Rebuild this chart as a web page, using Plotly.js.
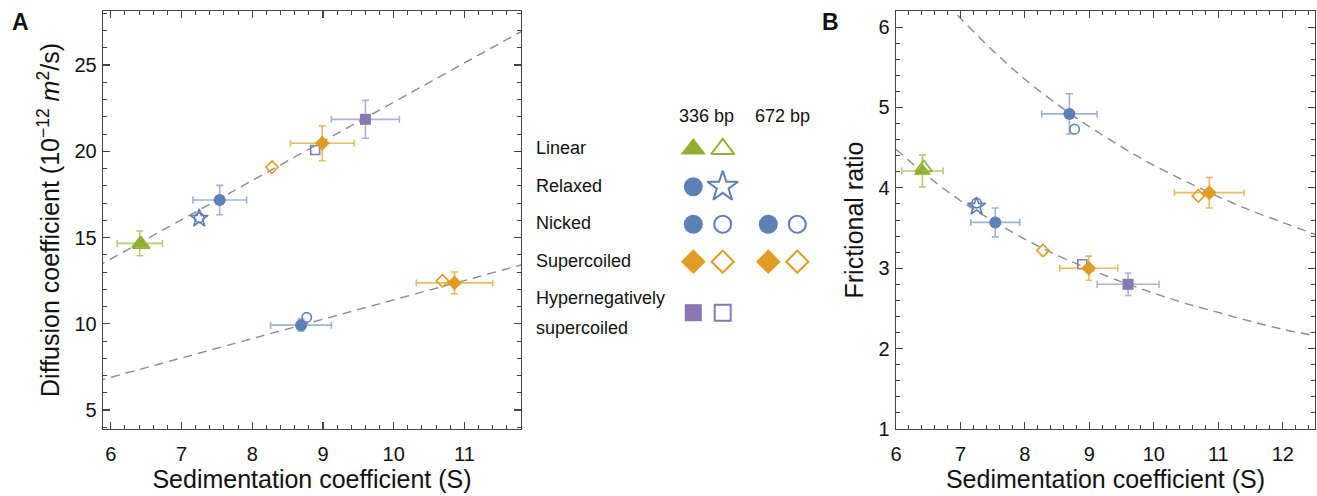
<!DOCTYPE html>
<html><head><meta charset="utf-8">
<script src="https://cdn.plot.ly/plotly-3.0.1.min.js"></script>
<style>html,body{margin:0;padding:0;background:#fff}#chart{width:1317px;height:496px}</style>
</head><body><div id="chart"></div>
<script>
// ---------------- DATA ----------------
const categories = ['Linear', 'Relaxed', 'Nicked', 'Supercoiled', 'Hypernegatively supercoiled'];
const lengths = ['336 bp', '672 bp'];

// Measured values (filled markers, with error bars)
const measForm = ['Linear', 'Nicked', 'Supercoiled', 'Hypernegatively supercoiled', 'Nicked', 'Supercoiled'];
const measLen  = ['336 bp', '336 bp', '336 bp', '336 bp', '672 bp', '672 bp'];
const measS    = [6.41, 7.54, 8.99, 9.60, 8.69, 10.86];
const measSErr = [0.32, 0.38, 0.45, 0.48, 0.43, 0.54];
const measD    = [14.66, 17.17, 20.46, 21.85, 9.92, 12.37];
const measDErr = [0.72, 0.85, 1.01, 1.10, 0.35, 0.63];
const measF    = [4.21, 3.57, 3.00, 2.80, 4.92, 3.94];
const measFErr = [0.20, 0.18, 0.15, 0.14, 0.25, 0.19];

// Computed values (open markers)
const compForm = ['Linear', 'Relaxed', 'Nicked', 'Supercoiled', 'Hypernegatively supercoiled', 'Nicked', 'Supercoiled'];
const compLen  = ['336 bp', '336 bp', '336 bp', '336 bp', '336 bp', '672 bp', '672 bp'];
const compS    = [6.43, 7.25, 7.25, 8.28, 8.89, 8.77, 10.69];
const compD    = [14.60, 16.11, 16.15, 19.07, 20.07, 10.37, 12.49];
const compF    = [4.25, 3.77, 3.81, 3.22, 3.05, 4.73, 3.90];

// Reference (dashed) curves
const curveA336S = [5.8, 12.0];
const curveA336D = [13.30, 27.39];
const curveA672S = [5.8, 12.0];
const curveA672D = [6.67, 13.63];
const curveB336S = [6.8, 7.0, 7.5, 8.0, 8.5, 9.0, 9.5, 10.0, 10.5, 11.0, 11.5, 12.0, 12.5];
const curveB336F = [6.29, 6.11, 5.71, 5.35, 5.04, 4.76, 4.51, 4.28, 4.08, 3.89, 3.72, 3.57, 3.42];
const curveB672S = [6.0, 6.5, 7.0, 7.5, 8.0, 8.5, 9.0, 9.5, 10.0, 10.5, 11.0, 11.5, 12.0, 12.5];
const curveB672F = [4.48, 4.14, 3.84, 3.59, 3.36, 3.16, 2.99, 2.83, 2.69, 2.56, 2.45, 2.34, 2.24, 2.16];

// Legend layout: which (form, length, filled/open) appear
const legendEntries = [
  ['Linear', '336 bp', 'filled'], ['Linear', '336 bp', 'open'],
  ['Relaxed', '336 bp', 'filled'], ['Relaxed', '336 bp', 'open'],
  ['Nicked', '336 bp', 'filled'], ['Nicked', '336 bp', 'open'],
  ['Nicked', '672 bp', 'filled'], ['Nicked', '672 bp', 'open'],
  ['Supercoiled', '336 bp', 'filled'], ['Supercoiled', '336 bp', 'open'],
  ['Supercoiled', '672 bp', 'filled'], ['Supercoiled', '672 bp', 'open'],
  ['Hypernegatively supercoiled', '336 bp', 'filled'], ['Hypernegatively supercoiled', '336 bp', 'open']
];

// ---------------- STYLE ----------------
const FONT = 'Liberation Sans, Arial, Helvetica, sans-serif';
const C = {green: '#8FB032', blue: '#5E81B5', orange: '#E19C24', purple: '#8778B3'};
const ERR = {green: 'rgba(143,176,50,0.65)', blue: 'rgba(94,129,181,0.6)', orange: 'rgba(225,156,36,0.7)', purple: 'rgba(135,120,179,0.6)'};
const formStyle = {
  'Linear': {c: 'green', filled: 'triangle-up', open: 'triangle-up-open', fs: 15, os: 15, lf: 22, lo: 20},
  'Relaxed': {c: 'blue', filled: 'circle', open: 'star-open', fs: 12, os: 13.5, lf: 19, lo: 23},
  'Nicked': {c: 'blue', filled: 'circle', open: 'circle-open', fs: 12, os: 9.5, lf: 19, lo: 17},
  'Supercoiled': {c: 'orange', filled: 'diamond', open: 'diamond-open', fs: 11.5, os: 9.5, lf: 19, lo: 17},
  'Hypernegatively supercoiled': {c: 'purple', filled: 'square', open: 'square-open', fs: 11, os: 9, lf: 17, lo: 16}
};

const W = 1317, H = 496;
const px = v => v / W, py = v => 1 - v / H;
const domA = [px(103), px(521)], domB = [px(896), px(1315)], domY = [py(429), py(11)];

const traces = [];
function addCurve(xs, ys, xa, ya) {
  traces.push({x: xs, y: ys, xaxis: xa, yaxis: ya, mode: 'lines', type: 'scatter', hoverinfo: 'skip',
    line: {color: '#8c8c8c', width: 1.4, dash: '9px,6px', shape: 'spline'}});
}
addCurve(curveA336S, curveA336D, 'x', 'y');
addCurve(curveA672S, curveA672D, 'x', 'y');
addCurve(curveB336S, curveB336F, 'x2', 'y2');
addCurve(curveB672S, curveB672F, 'x2', 'y2');

function addOpen(yVals, xa, ya) {
  compForm.forEach((f, i) => {
    const st = formStyle[f];
    traces.push({x: [compS[i]], y: [yVals[i]], xaxis: xa, yaxis: ya, mode: 'markers', type: 'scatter',
      name: f + ' ' + compLen[i], cliponaxis: false,
      marker: {symbol: st.open, size: st.os, color: C[st.c], line: {color: C[st.c], width: 1.6}}});
  });
}
function addFilled(yVals, yErr, xa, ya) {
  measForm.forEach((f, i) => {
    const st = formStyle[f];
    traces.push({x: [measS[i]], y: [yVals[i]], xaxis: xa, yaxis: ya, mode: 'markers', type: 'scatter',
      name: f + ' ' + measLen[i], cliponaxis: false,
      error_x: {type: 'data', array: [measSErr[i]], color: ERR[st.c], thickness: 1.6, width: 3.5},
      error_y: {type: 'data', array: [yErr[i]], color: ERR[st.c], thickness: 1.6, width: 3.5},
      marker: {symbol: st.filled, size: st.fs, color: C[st.c], line: {width: 0}}});
  });
}
addOpen(compD, 'x', 'y');
addFilled(measD, measDErr, 'x', 'y');
addOpen(compF, 'x2', 'y2');
addFilled(measF, measFErr, 'x2', 'y2');

// Legend (drawn on an overlay axis in pixel units)
const colX = {'336 bp': {filled: 693.3, open: 722.7}, '672 bp': {filled: 768.3, open: 797.3}};
const rowY = {'Linear': 149, 'Relaxed': 186.7, 'Nicked': 224.3, 'Supercoiled': 261.7, 'Hypernegatively supercoiled': 312.7};
legendEntries.forEach(([f, len, kind]) => {
  const st = formStyle[f];
  const isOpen = kind === 'open';
  traces.push({x: [colX[len][kind]], y: [rowY[f]], xaxis: 'x3', yaxis: 'y3', mode: 'markers', type: 'scatter',
    hoverinfo: 'skip', cliponaxis: false,
    marker: {symbol: st[kind], size: isOpen ? st.lo : st.lf,
      color: C[st.c], line: {color: C[st.c], width: isOpen ? 2 : 0}}});
});

const tickFont = {family: FONT, size: 20, color: '#111'};
function frame(range, domain, dtick, minorDtick, anchor, title, isX) {
  return {range: range, domain: domain, anchor: anchor, showline: true, linecolor: '#444', linewidth: 1.3,
    mirror: 'ticks', ticks: 'inside', ticklen: 7, tickwidth: 1.1, tickcolor: '#444', tick0: 0, dtick: dtick,
    ticklabelstandoff: isX ? 7 : 1,
    minor: {ticks: 'inside', ticklen: 4, tickwidth: 1, tickcolor: '#444', dtick: minorDtick, tick0: 0},
    showgrid: false, zeroline: false, tickfont: tickFont, fixedrange: true,
    title: {text: title, font: {family: FONT, size: 25, color: '#111'}, standoff: isX ? 0 : 7}};
}

const ann = [];
const labelFont = {family: FONT, size: 18, color: '#111'};
const rowLabelY = {'Linear': 148.3, 'Relaxed': 186, 'Nicked': 223.3, 'Supercoiled': 260.7};
categories.forEach(cat => {
  if (rowLabelY[cat] !== undefined) {
    ann.push({x: 534, y: rowLabelY[cat], xref: 'x3', yref: 'y3', text: cat, showarrow: false, xanchor: 'left', yanchor: 'middle', font: labelFont});
  }
});
ann.push({x: 534, y: 298.3, xref: 'x3', yref: 'y3', text: 'Hypernegatively', showarrow: false, xanchor: 'left', yanchor: 'middle', font: labelFont});
ann.push({x: 534, y: 328.3, xref: 'x3', yref: 'y3', text: 'supercoiled', showarrow: false, xanchor: 'left', yanchor: 'middle', font: labelFont});
ann.push({x: 706.7, y: 116, xref: 'x3', yref: 'y3', text: lengths[0], showarrow: false, xanchor: 'center', yanchor: 'middle', font: labelFont});
ann.push({x: 782, y: 116, xref: 'x3', yref: 'y3', text: lengths[1], showarrow: false, xanchor: 'center', yanchor: 'middle', font: labelFont});
ann.push({x: 20, y: 22, xref: 'x3', yref: 'y3', text: '<b>A</b>', showarrow: false, xanchor: 'center', yanchor: 'middle', font: {family: FONT, size: 23, color: '#111'}});
ann.push({x: 830, y: 22, xref: 'x3', yref: 'y3', text: '<b>B</b>', showarrow: false, xanchor: 'center', yanchor: 'middle', font: {family: FONT, size: 23, color: '#111'}});

const layout = {
  width: W, height: H, margin: {l: 0, r: 0, t: 0, b: 0}, paper_bgcolor: '#fff', plot_bgcolor: 'rgba(0,0,0,0)',
  showlegend: false, font: {family: FONT},
  xaxis: frame([5.89, 11.8], domA, 1, 0.2, 'y', 'Sedimentation coefficient (S)', true),
  yaxis: frame([3.9, 28.13], domY, 5, 1, 'x', 'Diffusion coefficient (10<sup>−12</sup> <i>m</i><sup>2</sup>/s)', false),
  xaxis2: frame([6, 12.5], domB, 1, 0.2, 'y2', 'Sedimentation coefficient (S)', true),
  yaxis2: frame([1, 6.2], domY, 1, 0.2, 'x2', 'Frictional ratio', false),
  xaxis3: {domain: [0, 1], range: [0, W], visible: false, anchor: 'y3', fixedrange: true},
  yaxis3: {domain: [0, 1], range: [H, 0], visible: false, anchor: 'x3', fixedrange: true},
  annotations: ann
};

Plotly.newPlot('chart', traces, layout, {displayModeBar: false, staticPlot: true});
</script>
</body></html>
